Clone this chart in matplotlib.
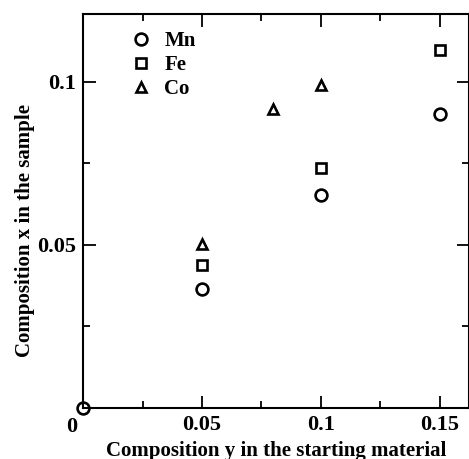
import matplotlib
matplotlib.use("Agg")
import matplotlib.pyplot as plt

plt.rcParams['font.family'] = ['Liberation Serif', 'DejaVu Serif']
plt.rcParams['font.weight'] = 'bold'

# data
mn_y = [0.0, 0.05, 0.1, 0.15]
mn_x = [0.0, 0.0364, 0.0652, 0.0901]
fe_y = [0.05, 0.1, 0.15]
fe_x = [0.0438, 0.0735, 0.1097]
co_y = [0.05, 0.08, 0.1]
co_x = [0.0501, 0.0916, 0.0990]

xticks = [0, 0.05, 0.1, 0.15]
xtick_labels = ['', '0.05', '0.1', '0.15']
yticks = [0, 0.05, 0.1]
ytick_labels = ['', '0.05', '0.1']

fig = plt.figure(figsize=(4.69, 4.59), dpi=100)
ax = fig.add_axes([0.177, 0.112, 0.823, 0.858])

mk = dict(linestyle='none', markerfacecolor='white', markeredgecolor='black',
          markeredgewidth=1.9, clip_on=False)
ax.plot(mn_y, mn_x, marker='o', markersize=8.5, label='Mn', **mk)
ax.plot(fe_y, fe_x, marker='s', markersize=6.5, label='Fe', **mk)
ax.plot(co_y, co_x, marker='^', markersize=7.5, label='Co', **mk)

ax.set_xlim(0, 0.1622)
ax.set_ylim(0, 0.1208)
ax.set_xticks(xticks)
ax.set_xticklabels(xtick_labels)
ax.set_yticks(yticks)
ax.set_yticklabels(ytick_labels)
ax.set_xticks([0.025, 0.075, 0.125], minor=True)
ax.set_yticks([0.025, 0.075], minor=True)
ax.tick_params(which='both', direction='in', top=True, right=True, width=1.3,
               labelsize=16)
ax.tick_params(which='major', length=9, pad=5)
ax.tick_params(which='minor', length=5)
for s in ax.spines.values():
    s.set_linewidth(1.5)

ax.text(-0.03, -0.025, '0', transform=ax.transAxes, fontsize=16,
        fontweight='bold', ha='center', va='top')

ax.set_xlabel('Composition y in the starting material', fontsize=15,
              fontweight='bold', labelpad=5)
ax.set_ylabel('Composition x in the sample', fontsize=15, fontweight='bold')
ax.yaxis.set_label_coords(-0.125, 0.449)

leg = ax.legend(loc='upper left', bbox_to_anchor=(0.07, 1.004), frameon=False,
                fontsize=15, handletextpad=0.5, labelspacing=0.2,
                handlelength=1.2)

fig.savefig('out.png', dpi=100)
